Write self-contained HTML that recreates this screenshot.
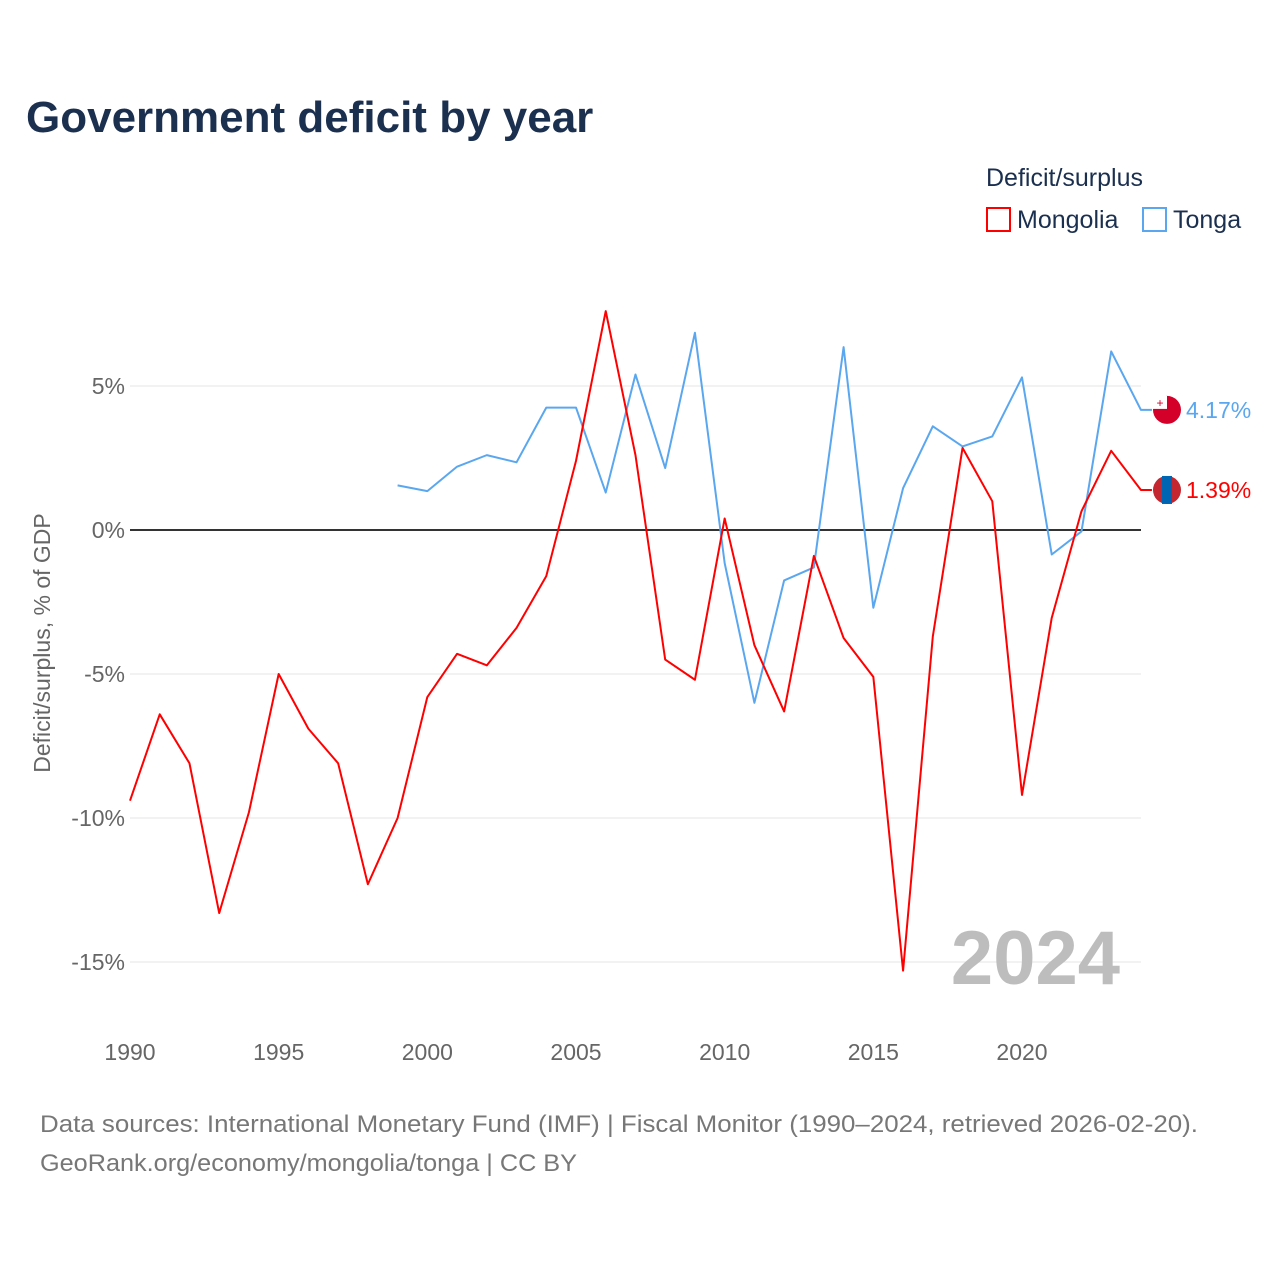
<!DOCTYPE html>
<html><head><meta charset="utf-8"><style>
body{margin:0;background:#fff;font-family:"Liberation Sans",sans-serif}
svg text{font-family:"Liberation Sans",sans-serif}
</style></head><body>
<svg id="chart" width="1280" height="1280" xmlns="http://www.w3.org/2000/svg">
<rect width="1280" height="1280" fill="#fff"/>
<text x="26" y="132" font-size="44" font-weight="bold" fill="#1b2f4f">Government deficit by year</text>
<text x="986" y="186" font-size="25" fill="#1b2f4f">Deficit/surplus</text>
<g><rect x="987" y="208" width="23" height="23" fill="none" stroke="#ff0000" stroke-width="2"/><text x="1017" y="228" font-size="25" fill="#1b2f4f">Mongolia</text></g>
<g><rect x="1143" y="208" width="23" height="23" fill="none" stroke="#5aa7ef" stroke-width="2"/><text x="1173" y="228" font-size="25" fill="#1b2f4f">Tonga</text></g>
<text transform="translate(50,643) rotate(-90)" text-anchor="middle" font-size="23" fill="#666">Deficit/surplus, % of GDP</text>
<g id="grid"></g><g id="yticks"></g><g id="xticks"></g>
<text x="1120" y="984" text-anchor="end" font-size="76" font-weight="bold" fill="#bdbdbd">2024</text>
<g id="series"></g>
<text x="40" y="1132" font-size="24" fill="#777" textLength="1158" lengthAdjust="spacingAndGlyphs">Data sources: International Monetary Fund (IMF) | Fiscal Monitor (1990–2024, retrieved 2026-02-20).</text>
<text x="40" y="1171" font-size="24" fill="#777" textLength="537" lengthAdjust="spacingAndGlyphs">GeoRank.org/economy/mongolia/tonga | CC BY</text>
</svg>
<script>
const yTicks=[5,0,-5,-10,-15];
const yTickLabels=["5%","0%","-5%","-10%","-15%"];
const xTicks=[1990,1995,2000,2005,2010,2015,2020];
const mongoliaYears=[1990,1991,1992,1993,1994,1995,1996,1997,1998,1999,2000,2001,2002,2003,2004,2005,2006,2007,2008,2009,2010,2011,2012,2013,2014,2015,2016,2017,2018,2019,2020,2021,2022,2023,2024];
const mongoliaValues=[-9.4,-6.4,-8.1,-13.3,-9.8,-5.0,-6.9,-8.1,-12.3,-10.0,-5.8,-4.3,-4.7,-3.4,-1.6,2.4,7.6,2.6,-4.5,-5.2,0.4,-4.0,-6.3,-0.9,-3.75,-5.1,-15.3,-3.7,2.85,1.0,-9.2,-3.05,0.65,2.75,1.39];
const tongaYears=[1999,2000,2001,2002,2003,2004,2005,2006,2007,2008,2009,2010,2011,2012,2013,2014,2015,2016,2017,2018,2019,2020,2021,2022,2023,2024];
const tongaValues=[1.55,1.35,2.2,2.6,2.35,4.25,4.25,1.3,5.4,2.15,6.85,-1.15,-6.0,-1.75,-1.3,6.35,-2.7,1.45,3.6,2.9,3.25,5.3,-0.85,-0.05,6.2,4.17];
const NS="http://www.w3.org/2000/svg";
const xs=y=>130+(y-1990)*(1022-130)/30;
const ys=v=>530-v*28.8;
function mk(t,a,p){const e=document.createElementNS(NS,t);for(const k in a)e.setAttribute(k,a[k]);document.getElementById(p).appendChild(e);return e;}
yTicks.forEach((v,i)=>{
 const l=mk('line',{x1:130,x2:1141,y1:ys(v),y2:ys(v),stroke:v===0?'#333':'#e6e6e6','stroke-width':v===0?2:1},'grid');
 
 
 const t=mk('text',{x:125,y:ys(v)+8,'text-anchor':'end','font-size':23,fill:'#666'},'yticks');
 t.textContent=yTickLabels[i];
 
 
});
xTicks.forEach(y=>{
 const t=mk('text',{x:xs(y),y:1060,'text-anchor':'middle','font-size':23,fill:'#666'},'xticks');
 t.textContent=y;
 
 
});
function series(years,vals,color,name,label){
 const last=vals[vals.length-1];
 let d=years.map((y,i)=>(i?'L':'M')+xs(y)+','+ys(vals[i])).join(' ')+' L'+(xs(years[years.length-1])+11)+','+ys(last);
 const p=mk('path',{d:d,fill:'none',stroke:color,'stroke-width':2,'stroke-linejoin':'round'},'series');
 
 
 const c=mk('circle',{cx:1167,cy:ys(last),r:14,fill:name==='tonga'?'#d5002a':'#c4272f'},'series');
 
 
 if(name==='tonga'){mk('rect',{x:1153,y:ys(last)-14,width:14,height:13,fill:'#fff'},'series');mk('text',{x:1160,y:ys(last)-3,'text-anchor':'middle','font-size':12,fill:'#d5002a'},'series').textContent='+';}
 else{mk('rect',{x:1162,y:ys(last)-14,width:10,height:28,fill:'#0066b3'},'series');}
 const t=mk('text',{x:1186,y:ys(last)+8,'font-size':23,fill:color},'series');
 t.textContent=label;
 
 
}
series(tongaYears,tongaValues,'#5aa7ef','tonga',tongaValues[tongaValues.length-1].toFixed(2)+'%');
series(mongoliaYears,mongoliaValues,'#ff0000','mongolia',mongoliaValues[mongoliaValues.length-1].toFixed(2)+'%');
</script>
</body></html>
